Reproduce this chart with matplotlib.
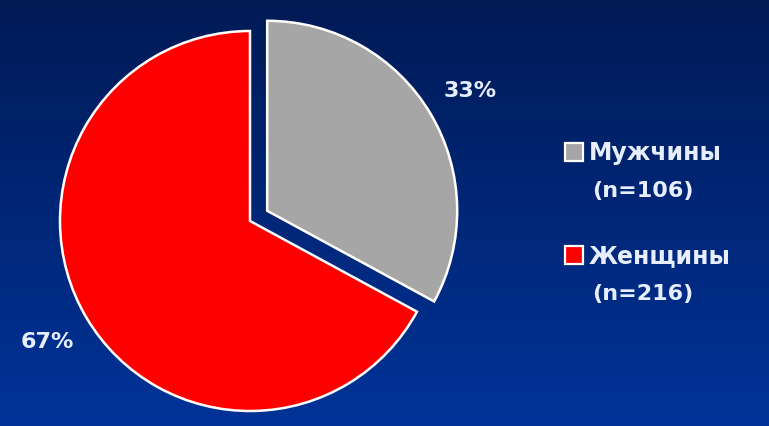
import numpy as np
import matplotlib
matplotlib.use("Agg")
import matplotlib.pyplot as plt
from matplotlib.colors import LinearSegmentedColormap
from matplotlib.patches import Rectangle

# Data
categories = ["Мужчины", "Женщины"]
counts = [106, 216]
legend_counts = ["(n=106)", "(n=216)"]
colors = ["#a6a6a6", "#ff0000"]

W, H = 769, 427
fig = plt.figure(figsize=(W / 100, H / 100), dpi=100)
ax = fig.add_axes([0, 0, 1, 1])

# Vertical gradient background: navy at top, brighter blue at bottom
grad = np.linspace(0, 1, 256).reshape(-1, 1)
cmap = LinearSegmentedColormap.from_list("bg", ["#003399", "#001a55"])
ax.imshow(grad, extent=(0, W, 0, H), cmap=cmap, aspect="auto",
          origin="lower", zorder=0)

text_color = "#e6eeff"
font = ["DejaVu Sans"]

wedges, _, autotexts = ax.pie(
    counts,
    colors=colors,
    startangle=90,
    counterclock=False,
    explode=[20, 0],
    center=(250, 205),
    radius=190,
    autopct="%.0f%%",
    pctdistance=1.24,
    wedgeprops=dict(edgecolor="white", linewidth=1.8),
    textprops=dict(color=text_color, fontsize=16, fontweight="bold",
                   family=font),
    frame=True,
)
for w in wedges:
    w.set_zorder(2)

ax.set_xlim(0, W)
ax.set_ylim(0, H)
ax.set_aspect("auto")
ax.axis("off")

# Legend drawn in pixel coordinates
legend_y = [427 - 153, 427 - 256]
for i, (name, nlab) in enumerate(zip(categories, legend_counts)):
    y = legend_y[i]
    ax.add_patch(Rectangle((565, y - 9), 18, 18, facecolor=colors[i],
                           edgecolor="white", linewidth=1.6, zorder=3))
    ax.text(589, y, name, color=text_color, fontsize=17, fontweight="bold",
            family=font, va="center", ha="left", zorder=3)
    ax.text(592, y - 38, nlab, color=text_color, fontsize=16,
            fontweight="bold", family=font, va="center", ha="left", zorder=3)

fig.savefig("out.png", dpi=100)
